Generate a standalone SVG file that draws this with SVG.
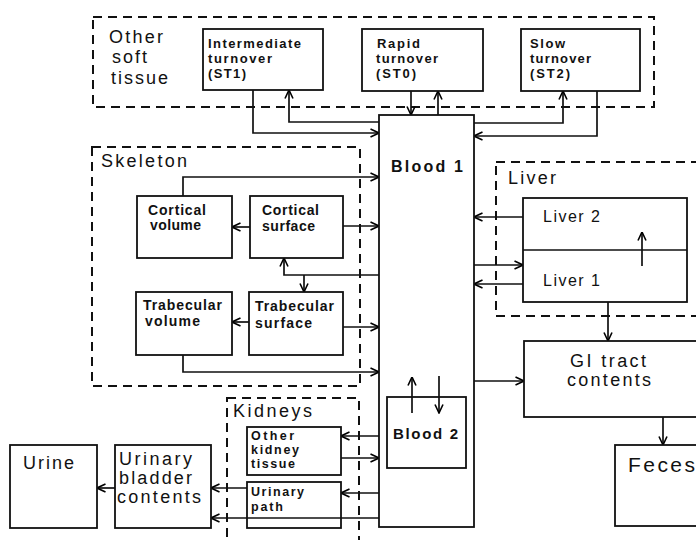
<svg xmlns="http://www.w3.org/2000/svg" width="696" height="540" viewBox="0 0 696 540">
<defs>
<marker id="ah" viewBox="0 0 10 10" refX="9.5" refY="5" markerWidth="10" markerHeight="10" markerUnits="userSpaceOnUse" orient="auto">
<path d="M1,1 L9.5,5 L1,9" fill="none" stroke="#000" stroke-width="1.6"/>
</marker>
</defs>
<style>
.box{fill:#fff;stroke:#111;stroke-width:1.8}
.dash{fill:none;stroke:#111;stroke-width:2;stroke-dasharray:9,6}
.c{fill:none;stroke:#111;stroke-width:1.7;marker-end:url(#ah)}
.n{fill:none;stroke:#111;stroke-width:1.7}
text{font-family:"Liberation Sans",Arial,sans-serif;fill:#111}
.s{font-size:13px;font-weight:bold}
.k{font-size:12.5px;font-weight:bold}
.m{font-size:14px;font-weight:bold}
.l{font-size:18px}
.b{font-size:16px;font-weight:bold}
</style>
<rect width="696" height="540" fill="#fff"/>
<g id="groups">
<rect class="dash" x="93" y="17" width="561" height="90"/>
<rect class="dash" x="92" y="147" width="268" height="239"/>
<rect class="dash" x="496" y="162" width="220" height="154"/>
<rect class="dash" x="227" y="398" width="132" height="170"/>
<text class="l" x="109" y="43" textLength="54">Other</text>
<text class="l" x="112" y="63" textLength="35">soft</text>
<text class="l" x="111" y="84" textLength="57">tissue</text>
<text class="l" x="101" y="167" textLength="86">Skeleton</text>
<text class="l" x="508" y="184" textLength="48">Liver</text>
<text class="l" x="233" y="417" textLength="79">Kidneys</text>
</g>
<g id="connectors">
<path class="c" d="M253,90 V133 H379"/>
<path class="c" d="M379,122 H289 V90"/>
<path class="c" d="M411,91 V115"/>
<path class="c" d="M438,115 V91"/>
<path class="c" d="M474,123 H563 V91"/>
<path class="c" d="M597,91 V136 H474"/>
<path class="c" d="M183,196 V177 H379"/>
<path class="c" d="M250,227 H232"/>
<path class="c" d="M343,226 H379"/>
<path class="c" d="M379,275 H284 V258"/>
<path class="c" d="M304,275 V292"/>
<path class="c" d="M249,322 H232"/>
<path class="c" d="M343,327 H379"/>
<path class="c" d="M183,355 V372 H379"/>
<path class="c" d="M523,217 H474"/>
<path class="c" d="M474,265 H523"/>
<path class="c" d="M523,284 H474"/>
<path class="c" d="M608,302 V341"/>
<path class="c" d="M474,381 H524"/>
<path class="c" d="M663,417 V445"/>
<path class="c" d="M379,436 H341"/>
<path class="c" d="M341,458 H379"/>
<path class="c" d="M379,493 H341"/>
<path class="c" d="M247,488 H211"/>
<path class="c" d="M115,488 H97"/>
</g>
<g id="st1"><rect class="box" x="203" y="29" width="120" height="61"/>
<text class="s" x="208" y="48" textLength="93">Intermediate</text>
<text class="s" x="208" y="63" textLength="64">turnover</text>
<text class="s" x="208" y="78" textLength="38">(ST1)</text></g>
<g id="st0"><rect class="box" x="362" y="29" width="121" height="62"/>
<text class="s" x="377" y="48" textLength="43">Rapid</text>
<text class="s" x="376" y="63" textLength="62">turnover</text>
<text class="s" x="376" y="78" textLength="40">(ST0)</text></g>
<g id="st2"><rect class="box" x="521" y="29" width="119" height="62"/>
<text class="s" x="530" y="48" textLength="35">Slow</text>
<text class="s" x="530" y="63" textLength="61">turnover</text>
<text class="s" x="530" y="78" textLength="40">(ST2)</text></g>
<g id="cortvol"><rect class="box" x="137" y="196" width="95" height="62"/>
<text class="m" x="148" y="215" textLength="58">Cortical</text>
<text class="m" x="150" y="230" textLength="51">volume</text></g>
<g id="cortsurf"><rect class="box" x="250" y="196" width="93" height="62"/>
<text class="m" x="262" y="215" textLength="57">Cortical</text>
<text class="m" x="262" y="231" textLength="53">surface</text></g>
<g id="trabvol"><rect class="box" x="136" y="292" width="96" height="63"/>
<text class="m" x="143" y="310" textLength="79">Trabecular</text>
<text class="m" x="145" y="326" textLength="55">volume</text></g>
<g id="trabsurf"><rect class="box" x="249" y="292" width="94" height="63"/>
<text class="m" x="255" y="311" textLength="79">Trabecular</text>
<text class="m" x="255" y="328" textLength="57">surface</text></g>
<g id="blood1"><rect class="box" x="379" y="115" width="95" height="412"/>
<text class="b" x="391" y="172" textLength="72">Blood 1</text></g>
<g id="blood2"><rect class="box" x="387" y="397" width="79" height="71"/>
<text class="b" x="393" y="439" textLength="65" style="font-size:15px">Blood 2</text></g>
<g id="blood2links">
<path class="c" d="M412,413 V377"/>
<path class="c" d="M439,376 V413"/>
</g>
<g id="liver"><rect class="box" x="523" y="198" width="164" height="104"/>
<line class="n" x1="523" y1="250" x2="687" y2="250"/>
<text style="font-size:16px" x="543" y="222" textLength="57">Liver 2</text>
<text style="font-size:16px" x="543" y="286" textLength="57">Liver 1</text>
<path class="c" d="M642,266 V232"/></g>
<g id="gi"><rect class="box" x="524" y="341" width="200" height="76"/>
<text style="font-size:18px" x="570" y="367" textLength="76">GI tract</text>
<text style="font-size:18px" x="567" y="386" textLength="84">contents</text></g>
<g id="feces"><rect class="box" x="615" y="445" width="100" height="81"/>
<text style="font-size:21px" x="628" y="472" textLength="67">Feces</text></g>
<g id="otherkidney"><rect class="box" x="247" y="427" width="94" height="48"/>
<text class="k" x="251" y="440" textLength="43">Other</text>
<text class="k" x="251" y="454" textLength="48">kidney</text>
<text class="k" x="251" y="468" textLength="44">tissue</text></g>
<g id="urinarypath"><rect class="box" x="247" y="482" width="94" height="46"/>
<text class="k" x="251" y="496" textLength="53">Urinary</text>
<text class="k" x="251" y="511" textLength="32">path</text></g>
<path class="c" d="M379,518 H211"/>
<g id="bladder"><rect class="box" x="115" y="445" width="96" height="83"/>
<text style="font-size:18px" x="119" y="465" textLength="73">Urinary</text>
<text style="font-size:18px" x="119" y="484" textLength="73">bladder</text>
<text style="font-size:18px" x="117" y="503" textLength="84">contents</text></g>
<g id="urine"><rect class="box" x="10" y="445" width="87" height="83"/>
<text class="l" x="23" y="469" textLength="51">Urine</text></g>
</svg>
